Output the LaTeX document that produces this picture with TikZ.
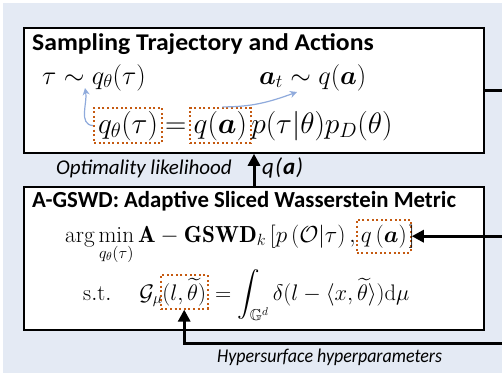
\RequirePackage{fix-cm}
\documentclass[tikz,border=0pt]{standalone}
\usepackage{amsmath,amssymb}
\usepackage{graphicx}
\usepackage{fontspec}
\newfontfamily\carl{Carlito}
\usetikzlibrary{arrows.meta}
\definecolor{bgc}{HTML}{E4EAF4}
\definecolor{dotc}{HTML}{C55A11}
\definecolor{bluec}{HTML}{8FAADC}
\tikzset{
 panel/.style={draw=black, line width=1.5pt, fill=white},
 ttl/.style={font=\carl\bfseries, inner sep=0pt, anchor=base west},
 lbl/.style={font=\carl\itshape, inner sep=0pt, anchor=base west},
 mtop/.style={font=\fontsize{26.5}{30}\selectfont, inner sep=0pt, anchor=base west},
 mtopb/.style={font=\fontsize{29.5}{33}\selectfont, inner sep=0pt, anchor=base west},
 mbot/.style={font=\fontsize{22.5}{26}\selectfont, inner sep=0pt, anchor=base west},
 mbotb/.style={font=\fontsize{23.2}{27}\selectfont, inner sep=0pt, anchor=base west},
 dotbox/.style={draw=dotc, line width=2pt, dash pattern=on 2pt off 2.6pt, inner xsep=4pt, inner ysep=3pt},
 blarr/.style={draw=bluec, line width=1.2pt, -{Stealth[length=7pt,width=7pt]}},
 bkarr/.style={draw=black, line width=3pt, -{Triangle[length=12pt,width=12pt]}},
 bkline/.style={draw=black, line width=3pt},
}
\begin{document}
\begin{tikzpicture}[x=1pt,y=-1pt]
\useasboundingbox (0,0) rectangle (502,376);
\fill[bgc] (3,3) rectangle (502,373);
\node[panel, minimum width=460pt, minimum height=125pt] (top) at (254,90.5) {};
\node[panel, minimum width=460pt, minimum height=143pt] (bot) at (254,258.5) {};

\node[ttl] (t1) at (32,50) {\fontsize{24}{28}\selectfont\scalebox{1.07}[1]{Sampling Trajectory and Actions}};
\node[mtop] (s1) at (42,84) {$\tau\sim q_\theta(\tau)$};
\node[mtop] (s2) at (259,84) {$\boldsymbol{a}_t\sim q(\boldsymbol{a})$};
\node[mtopb, dotbox] (qth) at (93,133) {$q_\theta(\tau)$};
\node[mtopb, inner xsep=2pt] (eq) at (qth.base east) {$=$};
\node[mtopb, dotbox] (qa) at (eq.base east) {$q(\boldsymbol{a})$};
\node[mtopb] (pr) at ([xshift=-1pt]qa.base east) {$p(\tau|\theta)p_D(\theta)$};

\coordinate (tip1) at (85,88);
\coordinate (tip2) at (297,92);
\draw[blarr] (qth.west) to[out=175,in=-80] (tip1);
\draw[blarr] ([xshift=2pt]qa.north) to[out=0,in=200] (tip2);

\draw[bkarr] (bot.north) -- (top.south);
\node[lbl, anchor=base east] (ol) at (232,174) {\fontsize{21}{25}\selectfont Optimality likelihood};
\node[lbl] (qal) at (262,174) {\fontsize{23}{27}\selectfont q\kern1pt(\kern1pt\textbf{a}\kern1pt)};
\coordinate (r1) at (502,90.5);
\draw[bkline] (top.east) -- (r1);

\node[ttl] (t2) at (32,207) {\fontsize{23}{27}\selectfont\scalebox{0.99}[1]{A-GSWD: Adaptive Sliced Wasserstein Metric}};
\node[mbotb] (am) at (65,242) {$\displaystyle\arg\min_{q_\theta(\tau)}\mathbf{A}-\mathbf{GSWD}_k\,[p\,(\mathcal{O}|\tau)\,,$};
\node[mbotb, dotbox, inner ysep=5pt] (qa2) at (am.base east) {$q\,(\boldsymbol{a})$};
\node[mbotb] (rb) at ([xshift=-3pt]qa2.base east) {$]$};
\node[mbot] (st) at (83,300) {$\mathrm{s.t.}\hspace{28pt}\mathcal{G}_\mu$};
\node[mbot, dotbox, inner xsep=1.5pt] (lt) at ([xshift=-3pt]st.base east) {$(l,\widetilde{\theta})$};
\node[mbot] (rhs) at (lt.base east) {$\;=\displaystyle\int_{\mathbb{G}^d}\delta(l-\langle x,\widetilde{\theta}\rangle)\mathrm{d}\mu$};

\coordinate (r2) at (qa2.east -| r1);
\draw[bkarr] (r2) -- (qa2.east);
\coordinate (r3) at (502,343);
\draw[bkarr] (r3) -| (lt.south);
\node[lbl] (hh) at (217,362) {\fontsize{19.5}{23}\selectfont\scalebox{0.92}[1]{Hypersurface hyperparameters}};
\end{tikzpicture}
\end{document}
